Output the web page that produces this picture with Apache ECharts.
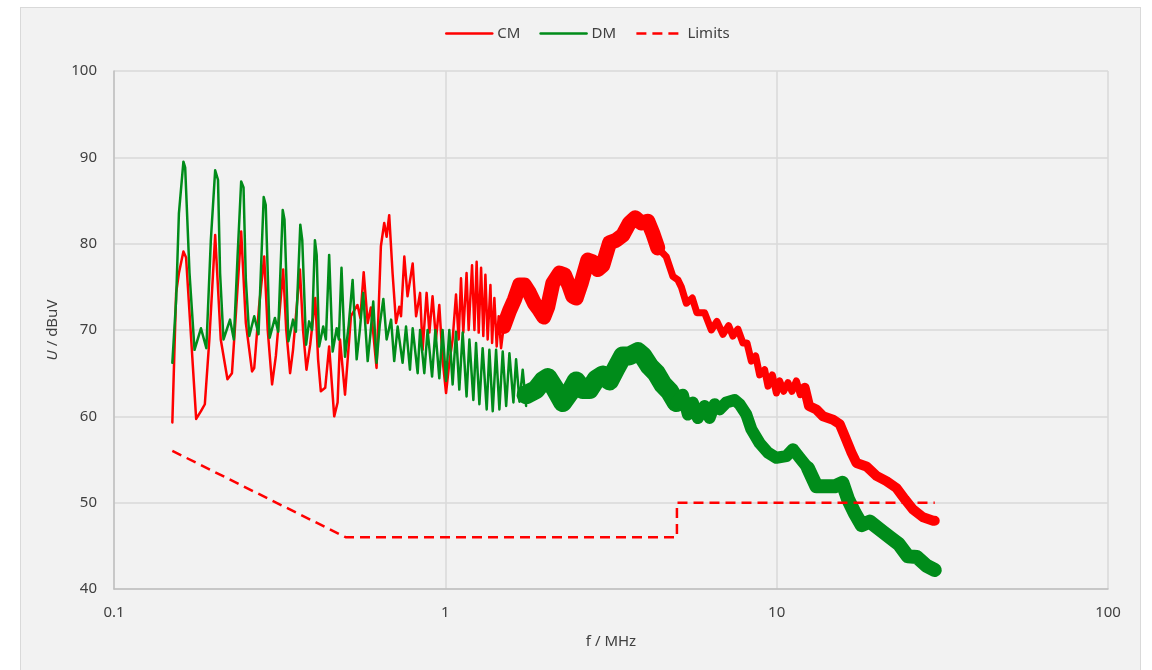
<!DOCTYPE html>
<html><head><meta charset="utf-8">
<script src="https://cdn.jsdelivr.net/npm/echarts@6/dist/echarts.min.js"></script>
<style>
html,body{margin:0;padding:0;background:#fff;}
body{width:1152px;height:670px;overflow:hidden;position:relative;}
#panel{position:absolute;left:20px;top:7px;width:1121px;height:700px;background:#f2f2f2;border:1px solid #d9d9d9;box-sizing:border-box;}
#chart{position:absolute;left:0;top:0;width:1152px;height:670px;}
</style></head><body>
<div id="panel"></div><div id="chart"></div>
<script>
// ---- data (frequency in MHz, level in dBuV) ----
const legendNames = ['CM', 'DM', 'Limits'];
const xTickLabels = ['0.1', '1', '10', '100'];

const cmThinF = [0.150,0.154,0.157,0.162,0.165,0.171,0.177,0.183,0.188,0.194,0.202,0.210,0.220,0.227,0.234,0.242,0.250,0.261,0.265,0.274,0.284,0.291,0.300,0.308,0.324,0.331,0.340,0.347,0.364,0.372,0.381,0.391,0.405,0.413,0.421,0.434,0.446,0.462,0.473,0.481,0.498,0.519,0.543,0.554,0.567,0.583,0.596,0.620,0.639,0.654,0.665,0.677,0.693,0.710,0.726,0.735,0.752,0.769,0.797,0.816,0.839,0.854,0.878,0.895,0.915,0.937,0.959,0.981,1.005,1.028,1.052,1.077,1.097,1.115,1.133,1.159,1.176,1.204,1.224,1.243,1.261,1.282,1.302,1.321,1.342,1.368,1.384,1.406,1.429,1.449,1.473,1.500];
const cmThinV = [59.3,74.3,76.6,79.1,78.4,68.9,59.7,60.6,61.4,68.9,81.0,68.9,64.3,65.0,72.7,81.4,70.8,65.2,65.6,72.7,78.5,70.0,63.7,67.0,77.0,70.0,65.0,67.7,77.0,70.0,65.4,68.3,73.7,66.6,62.9,63.3,68.1,60.0,61.6,68.9,62.5,71.6,72.9,71.4,76.7,70.8,72.6,65.6,79.7,82.4,80.8,83.3,76.6,70.8,72.7,71.6,78.5,73.9,77.7,71.6,74.3,67.7,74.3,69.7,73.9,68.9,72.9,66.6,62.7,66.2,68.9,74.1,68.9,76.0,69.7,76.6,70.0,77.5,70.0,77.9,69.7,77.2,69.3,76.4,68.9,75.2,68.5,73.7,68.1,71.6,67.9,70.4];

const cmBand1F = [1.500,1.561,1.616,1.674,1.733,1.794,1.857,1.923,1.982,2.038,2.110,2.211,2.288,2.358,2.424,2.483,2.570,2.691,2.786,2.885,2.987,3.130,3.279,3.433,3.596,3.741,3.900,4.084,4.229,4.378];
const cmBand1V = [70.4,72.2,73.5,75.2,75.2,74.3,73.1,72.3,71.5,72.7,75.4,76.6,76.4,75.2,73.9,73.7,75.4,78.1,77.9,77.0,77.5,80.1,80.4,81.0,82.4,83.0,82.4,82.6,81.2,79.5];

const cmBand2F = [4.378,4.642,4.862,5.033,5.154,5.336,5.563,5.744,6.060,6.350,6.602,6.884,7.161,7.379,7.640,7.910,8.134,8.387,8.642,8.883,9.198,9.413,9.705,9.98,10.21,10.50,10.82,11.12,11.47,11.79,12.15];
const cmBand2V = [79.5,78.5,76.2,75.8,75.0,73.1,73.7,72.0,72.0,70.0,71.0,69.5,70.5,69.3,70.1,68.5,68.5,66.4,67.0,64.8,65.4,63.5,64.8,62.7,64.1,62.9,63.9,62.9,64.1,62.5,63.3];

const cmBand3F = [12.15,12.52,13.18,13.80,14.80,15.50,16.05,16.82,17.41,18.66,20.01,21.45,22.99,24.36,25.81,27.67,29.67,30.0];
const cmBand3V = [63.3,61.2,60.8,60.0,59.6,59.1,57.7,55.8,54.6,54.2,53.1,52.5,51.7,50.4,49.2,48.3,47.9,47.9];

const dmThinF = [0.150,0.154,0.157,0.162,0.164,0.169,0.175,0.183,0.190,0.196,0.202,0.206,0.209,0.214,0.224,0.230,0.236,0.242,0.246,0.250,0.256,0.265,0.273,0.283,0.287,0.295,0.306,0.313,0.323,0.327,0.336,0.347,0.354,0.365,0.370,0.380,0.388,0.396,0.404,0.409,0.416,0.428,0.436,0.446,0.457,0.470,0.477,0.486,0.498,0.511,0.525,0.540,0.552,0.565,0.583,0.594,0.606,0.620,0.634,0.650,0.665,0.686,0.701,0.718,0.743,0.761,0.782,0.797,0.825,0.839,0.864,0.884,0.912,0.933,0.959,0.981,1.005,1.028,1.052,1.077,1.102,1.128,1.159,1.182,1.215,1.238,1.267,1.296,1.333,1.358,1.390,1.423,1.456,1.490,1.526,1.561,1.605,1.635,1.674,1.712,1.753];
const dmThinV = [66.2,73.5,83.5,89.5,88.8,76.6,67.7,70.2,67.9,80.4,88.5,87.4,76.6,68.9,71.2,68.9,78.5,87.2,86.5,75.8,69.3,71.6,69.5,85.4,84.5,69.1,71.4,69.8,83.9,82.8,68.7,71.2,69.8,82.2,80.4,68.3,71.0,70.0,80.4,78.7,68.1,70.4,68.9,78.7,67.5,70.2,68.9,77.2,66.9,70.6,75.8,66.6,70.0,74.3,66.4,69.5,73.3,66.2,70.6,73.6,68.9,71.2,66.4,70.4,66.2,70.4,65.4,70.2,65.0,70.0,65.0,70.0,64.6,70.0,64.4,70.0,64.1,70.0,63.7,69.8,63.1,69.7,62.3,68.9,61.9,68.5,61.4,67.9,60.8,67.7,60.6,67.7,60.8,67.5,61.2,67.3,61.6,66.6,61.7,65.4,61.2];

const dmBand1F = [1.753,1.794,1.879,1.968,2.038,2.135,2.261,2.370,2.483,2.599,2.723,2.853,2.987,3.130,3.279,3.433,3.596,3.811,3.945,4.133,4.330,4.535,4.751,4.977];
const dmBand1V = [62.5,62.7,63.1,64.1,64.5,63.3,61.6,62.7,64.1,63.1,63.1,64.3,64.8,64.1,65.6,67.0,67.0,67.5,67.0,65.8,65.0,63.7,62.9,61.6];

const dmBand2F = [4.977,5.212,5.395,5.586,5.784,6.060,6.275,6.496,6.727,7.047,7.466,7.730,8.100,8.387,8.883,9.413,9.98,10.70,11.20,11.73,12.43];
const dmBand2V = [61.6,62.5,60.2,61.6,59.8,61.2,59.8,61.4,60.8,61.6,61.9,61.4,60.2,58.5,56.9,55.8,55.2,55.4,56.2,55.2,54.0];

const dmBand3F = [12.43,13.18,14.13,14.97,15.79,16.42,17.20,18.06,19.10,20.48,21.95,23.37,24.88,26.48,28.34,30.0];
const dmBand3V = [54.0,51.9,51.9,51.9,52.3,50.4,48.8,47.4,47.8,46.9,46.0,45.2,43.8,43.7,42.7,42.2];

const limitF = [0.15, 0.5, 5, 5, 30];
const limitV = [56, 46, 46, 50, 50];

// ---- chart ----
const RED = '#ff0000', GREEN = '#008c1a';
const FONT = 'Noto Sans';
function pairs(F, V) { return F.map((f, i) => [f, V[i]]); }
function trace(name, color, F, V, width, z) {
  return {
    name: name, type: 'line', data: pairs(F, V), symbol: 'none', showSymbol: false,
    lineStyle: { color: color, width: width, join: 'round', cap: 'round' },
    itemStyle: { color: color }, z: z, silent: true, animation: false
  };
}

const chart = echarts.init(document.getElementById('chart'), null, { renderer: 'canvas' });
chart.setOption({
  backgroundColor: 'transparent',
  animation: false,
  textStyle: { fontFamily: FONT },
  legend: {
    data: legendNames, left: 440, top: 21, itemWidth: 46, itemHeight: 14, itemGap: 19,
    itemStyle: { opacity: 0 },
    lineStyle: { width: 2.5 },
    textStyle: { fontFamily: FONT, fontSize: 15, color: '#404040' }
  },
  grid: { left: 114, right: 44, top: 71, bottom: 81, containLabel: false },
  xAxis: {
    type: 'log', logBase: 10, min: 0.1, max: 100,
    name: 'f / MHz', nameLocation: 'middle', nameGap: 45,
    nameTextStyle: { fontFamily: FONT, fontSize: 15, color: '#404040' },
    axisLine: { show: true, lineStyle: { color: '#bfbfbf', width: 1.5 } },
    axisTick: { show: false },
    minorTick: { show: false },
    axisLabel: { margin: 16, fontFamily: FONT, fontSize: 15, color: '#404040',
      formatter: v => xTickLabels[Math.round(Math.log10(v)) + 1] },
    splitLine: { show: true, lineStyle: { color: '#d9d9d9', width: 1.5 } }
  },
  yAxis: {
    type: 'value', min: 40, max: 100, interval: 10,
    name: '{i|U} / dBuV', nameLocation: 'middle', nameGap: 49,
    nameTextStyle: { fontFamily: FONT, fontSize: 15, color: '#404040',
      rich: { i: { fontStyle: 'italic', fontFamily: FONT, fontSize: 15, color: '#404040' } } },
    axisLine: { show: true, lineStyle: { color: '#bfbfbf', width: 1.5 } },
    axisTick: { show: false },
    axisLabel: { margin: 17, fontFamily: FONT, fontSize: 15, color: '#404040' },
    splitLine: { show: true, lineStyle: { color: '#d9d9d9', width: 1.5 } }
  },
  series: [
    trace('CM', RED, cmThinF, cmThinV, 2.5, 2),
    trace('CM', RED, cmBand1F, cmBand1V, 15, 2),
    trace('CM', RED, cmBand2F, cmBand2V, 7, 2),
    trace('CM', RED, cmBand3F, cmBand3V, 10, 2),
    trace('DM', GREEN, dmThinF, dmThinV, 2.5, 3),
    trace('DM', GREEN, dmBand1F, dmBand1V, 19, 3),
    trace('DM', GREEN, dmBand2F, dmBand2V, 12, 3),
    trace('DM', GREEN, dmBand3F, dmBand3V, 14, 3),
    {
      name: 'Limits', type: 'line', data: pairs(limitF, limitV), symbol: 'none', showSymbol: false,
      lineStyle: { color: RED, width: 2.5, type: [10, 6] }, itemStyle: { color: RED },
      z: 4, silent: true, animation: false
    }
  ]
});
</script></body></html>
